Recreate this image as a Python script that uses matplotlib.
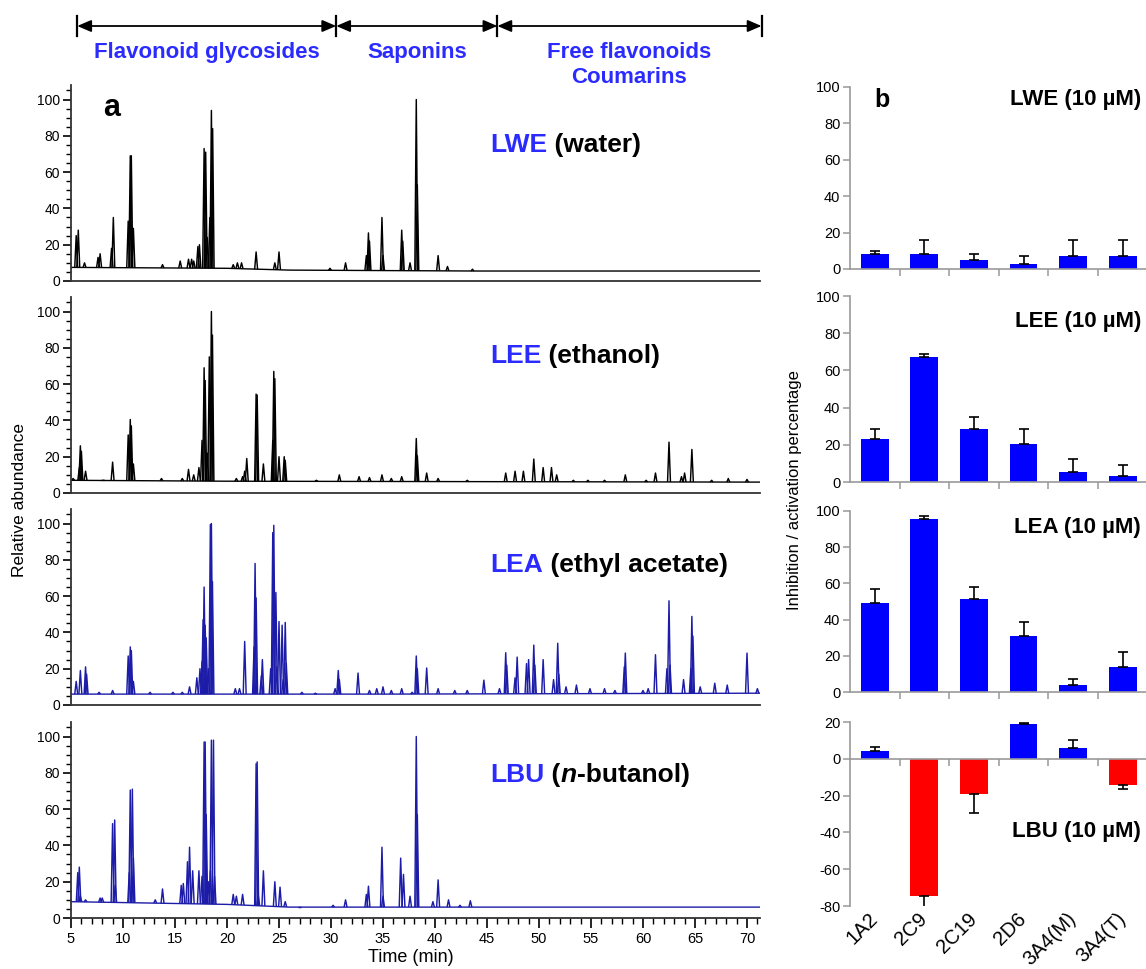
import numpy as np
import matplotlib
matplotlib.use("Agg")
import matplotlib.pyplot as plt
from matplotlib.collections import LineCollection

plt.rcParams["font.family"] = ["Liberation Sans", "DejaVu Sans"]
plt.rcParams["axes.unicode_minus"] = False

W, H = 1146, 969
BLUE_TXT = "#2b2bff"
TRACE_BLUE = "#1c1ca8"
BAR_BLUE = "#0000ff"
BAR_RED = "#ff0000"

# ---- chromatograms (retention time in min, relative abundance) ----
X_RANGE = (5, 71.25)
HALF_W = 0.14

LWE_BASE_T = [5, 20, 26, 44, 71.25]
LWE_BASE_Y = [7.5, 7, 6, 5.5, 5.5]
LWE_RT = [5.5, 5.7, 6.3, 7.6, 7.8, 8.9, 9.07, 10.5, 10.7, 10.8, 11.0, 13.8, 15.5, 16.3,
          16.6, 16.8, 17.2, 17.35, 17.8, 17.95, 18.1, 18.35, 18.5, 18.62, 20.6, 21.0,
          21.4, 22.8, 24.6, 25.0, 29.9, 31.4, 33.4, 33.6, 33.7, 34.9, 35.0, 36.8, 36.9,
          37.6, 38.2, 38.3, 40.3, 41.2, 43.6]
LWE_H = [25, 28, 10, 13, 15, 18, 35, 33, 69, 69, 29, 9, 11, 12,
         12, 11, 19, 20, 73, 71, 24, 35, 94, 84, 9, 10,
         10, 16, 10, 16, 7, 10, 14, 26.5, 22, 35, 14, 28, 22,
         10, 100, 53, 14, 8, 6.5]

LEE_BASE_T = [5, 20, 71.25]
LEE_BASE_Y = [7, 6.5, 6]
LEE_RT = [5.2, 5.8, 5.9, 6.0, 6.4, 8.1, 9.0, 10.5, 10.7, 10.8, 11.0, 13.7, 15.7, 16.3,
          16.8, 17.3, 17.6, 17.8, 17.9, 18.1, 18.3, 18.5, 18.6, 20.9, 21.5, 21.7, 21.9,
          22.8, 22.9, 23.5, 24.4, 24.5, 24.6, 25.0, 25.5, 25.6, 28.6, 30.8, 32.7, 33.7,
          34.9, 35.8, 36.8, 38.2, 38.3, 39.2, 40.3, 43.1, 46.8, 47.7, 48.5, 49.5, 50.4,
          51.2, 51.7, 53.3, 54.7, 56.3, 58.3, 60.3, 61.2, 62.5, 63.7, 64.0, 64.7, 66.6,
          68.2, 70.0]
LEE_H = [8, 14, 26, 23, 12, 7, 17, 32, 40.5, 37, 16, 8, 8, 13,
         10, 14, 29, 69, 62, 22, 75, 100, 87, 8, 9, 12, 19,
         54.5, 54, 16, 29, 67, 63, 20, 20, 18, 7, 10, 9, 8.5,
         10, 8, 9, 30, 20.5, 11, 8, 7, 11, 12, 12, 18.7, 14,
         14, 10, 7, 7, 7, 10, 7, 11, 28, 9, 11, 24, 7,
         8, 7.5]

LEA_BASE_T = [5, 35, 71.25]
LEA_BASE_Y = [6, 6, 6.5]
LEA_RT = [5.5, 5.9, 6.4, 6.5, 7.7, 9.0, 10.5, 10.7, 10.8, 11.0, 12.6, 14.8, 15.7, 16.4,
          17.1, 17.4, 17.6, 17.7, 17.8, 17.9, 18.0, 18.2, 18.4, 18.5, 18.6, 20.8, 21.2,
          21.7, 22.6, 22.7, 22.8, 23.3, 23.4, 24.2, 24.4, 24.5, 24.7, 24.8, 25.0, 25.3,
          25.4, 25.6, 25.7, 27.2, 28.5, 30.4, 30.7, 30.8, 32.6, 33.7, 34.4, 35.0, 35.8,
          36.8, 37.8, 38.2, 38.3, 39.2, 40.3, 41.9, 43.1, 44.7, 46.2, 46.8, 46.9, 47.7,
          47.9, 48.8, 49.0, 49.5, 49.6, 50.4, 51.4, 51.8, 51.9, 52.6, 53.6, 54.9, 56.3,
          57.3, 58.2, 58.3, 60.0, 60.5, 61.2, 62.3, 62.5, 62.6, 63.9, 64.6, 64.7, 64.8,
          65.5, 66.9, 68.1, 70.0, 71.0]
LEA_H = [13, 19, 21, 17, 7, 8, 27, 32, 30, 13, 7, 7, 7, 10,
         15, 20, 24, 47, 65, 44, 37, 20, 99.5, 100, 68, 9, 9,
         35, 32, 78, 59, 16, 25, 20, 95, 99, 62, 21, 46, 44,
         14, 45.5, 23, 7, 6.5, 9, 19, 14, 17.6, 8, 9, 10, 8,
         9, 7, 27, 20, 20.4, 9, 8, 8, 13.7, 9, 28.8, 22, 15,
         26.4, 22.8, 25, 33, 22, 25, 14, 34, 17, 10, 11, 9, 9,
         8, 21, 28.6, 8, 9, 27.7, 20, 57.4, 22, 14, 20, 48.8, 38,
         10, 12, 11, 28.6, 9]

LBU_BASE_T = [5, 20, 26, 45, 71.25]
LBU_BASE_Y = [9, 7.5, 6, 6, 6]
LBU_RT = [5.65, 5.8, 5.9, 6.4, 7.8, 8.0, 9.0, 9.2, 9.25, 10.6, 10.7, 10.9, 11.0, 13.1,
          13.8, 15.6, 15.8, 16.2, 16.4, 16.7, 17.3, 17.6, 17.8, 17.9, 18.0, 18.2, 18.4,
          18.5, 18.7, 18.8, 20.6, 20.9, 21.5, 22.8, 22.9, 23.0, 23.5, 24.6, 25.1, 25.6,
          27.0, 30.2, 31.4, 33.4, 33.6, 34.9, 35.0, 36.7, 36.97, 37.6, 38.2, 38.3, 39.8,
          40.3, 41.3, 42.4, 43.4]
LBU_H = [25, 28, 12, 10, 11, 11, 52, 54, 18, 25, 70.5, 71, 33, 10,
         16, 18, 19, 31, 39, 26, 26, 23, 97, 97, 57, 20, 26,
         98, 98, 23, 13, 12, 13, 85, 86, 13, 26, 20, 17, 9,
         6, 7, 10, 13, 17.5, 39, 12, 33, 24, 12, 100, 57, 9,
         21, 10, 7, 9.5]

SECTION_EDGES = [5.6, 30.5, 46.0, 71.4]
SECTION_NAMES = ["Flavonoid glycosides", "Saponins", "Free flavonoids\nCoumarins"]

# ---- CYP inhibition bars ----
CYPS = ["1A2", "2C9", "2C19", "2D6", "3A4(M)", "3A4(T)"]
LWE_PCT = [8, 8, 5, 3, 7, 7]
LWE_SD = [2, 8, 3, 4, 9, 9]
LEE_PCT = [23, 67, 28.5, 20.5, 5.5, 3.2]
LEE_SD = [5.3, 1.6, 6.6, 7.9, 6.9, 5.9]
LEA_PCT = [49.3, 95.6, 51.2, 30.9, 3.9, 13.6]
LEA_SD = [7.4, 1.6, 7.0, 7.6, 3.1, 8.7]
LBU_PCT = [4.2, -74.5, -19.1, 19.1, 5.8, -14.2]
LBU_SD = [2.2, 6.4, 10.2, 0.3, 4.6, 2.2]


def fx(x):
    return x / W


def fy(y):
    return 1 - y / H


fig = plt.figure(figsize=(W / 100, H / 100), dpi=100, facecolor="white")


def rich_label(ax, x, y, parts, size):
    txt, col, style = parts[0]
    prev = fig.text(fx(x), fy(y), txt, color=col, fontsize=size, fontweight="bold",
                    fontstyle=style, ha="left", va="center")
    for txt, col, style in parts[1:]:
        prev = ax.annotate(txt, xy=(1, 0), xycoords=prev, ha="left", va="bottom",
                           color=col, fontsize=size, fontweight="bold",
                           fontstyle=style, annotation_clip=False, clip_on=False)
    return prev


chrom = [
    (LWE_BASE_T, LWE_BASE_Y, LWE_RT, LWE_H, "black", 281,
     [("LWE", BLUE_TXT, "normal"), (" (water)", "black", "normal")], 145),
    (LEE_BASE_T, LEE_BASE_Y, LEE_RT, LEE_H, "black", 493,
     [("LEE", BLUE_TXT, "normal"), (" (ethanol)", "black", "normal")], 356),
    (LEA_BASE_T, LEA_BASE_Y, LEA_RT, LEA_H, TRACE_BLUE, 705,
     [("LEA", BLUE_TXT, "normal"), (" (ethyl acetate)", "black", "normal")], 565),
    (LBU_BASE_T, LBU_BASE_Y, LBU_RT, LBU_H, TRACE_BLUE, 918,
     [("LBU", BLUE_TXT, "normal"), (" (", "black", "normal"), ("n", "black", "italic"),
      ("-butanol)", "black", "normal")], 775),
]

chrom_axes = []
for i, (bt, by, rt, hh, col, bottom_px, parts, label_y) in enumerate(chrom):
    ax = fig.add_axes([fx(71), fy(bottom_px), fx(760) - fx(71), 196 / H])
    chrom_axes.append(ax)
    ax.plot(bt, by, color=col, lw=1.0)
    foot = np.interp(rt, bt, by)
    segs = [[(t - HALF_W, f), (t, p), (t + HALF_W, f)] for t, p, f in zip(rt, hh, foot)]
    ax.add_collection(LineCollection(segs, colors=col, linewidths=1.05))
    ax.set_xlim(*X_RANGE)
    ax.set_ylim(0, 108)
    for s in ("top", "right"):
        ax.spines[s].set_visible(False)
    for s in ("left", "bottom"):
        ax.spines[s].set_color("#333333")
        ax.spines[s].set_linewidth(1.3)
    ax.set_yticks(range(0, 101, 20))
    ax.set_yticks(range(0, 106, 5), minor=True)
    ax.tick_params(axis="y", which="major", length=6, width=1.2, labelsize=10, pad=2)
    ax.tick_params(axis="y", which="minor", length=3.5, width=1.0)
    if i < 3:
        ax.tick_params(axis="x", which="both", bottom=False, labelbottom=False)
    else:
        ax.set_xticks(range(5, 71, 5))
        ax.set_xticks(range(5, 72, 1), minor=True)
        ax.tick_params(axis="x", which="major", length=7, width=1.2, labelsize=10.5, pad=3)
        ax.tick_params(axis="x", which="minor", length=4, width=1.0)

for ax, (bt, by, rt, hh, col, bottom_px, parts, label_y) in zip(chrom_axes, chrom):
    rich_label(ax, 490, label_y, parts, 19)

# section brackets above the chromatograms
ax1 = chrom_axes[0]
tr = ax1.get_xaxis_transform()
y_arrow = (281 - 26) / 196
for e in SECTION_EDGES:
    ax1.plot([e, e], [(281 - 36) / 196, (281 - 16) / 196], color="black", lw=1.6,
             transform=tr, clip_on=False)
for a, b, name in zip(SECTION_EDGES[:-1], SECTION_EDGES[1:], SECTION_NAMES):
    ax1.annotate("", xy=(a, y_arrow), xytext=(b, y_arrow), xycoords=tr, textcoords=tr,
                 arrowprops=dict(arrowstyle="<|-|>,head_length=0.7,head_width=0.3",
                                 color="black", lw=1.3, shrinkA=0, shrinkB=0,
                                 mutation_scale=12),
                 annotation_clip=False)
    ax1.text((a + b) / 2, (281 - 42) / 196, name, transform=tr, ha="center", va="top",
             color=BLUE_TXT, fontsize=16, fontweight="bold", linespacing=1.25)

fig.text(fx(112), fy(108), "a", fontsize=22, fontweight="bold", ha="center", va="center")
fig.text(fx(20), fy(500), "Relative abundance", rotation=90, fontsize=12.5,
         ha="center", va="center")
fig.text(fx(411), fy(958), "Time (min)", fontsize=13, ha="center", va="center")

# ---- bar panels ----
bars = [
    (LWE_PCT, LWE_SD, (0, 100), 269, 182, "LWE (10 µM)", 100),
    (LEE_PCT, LEE_SD, (0, 100), 482, 186, "LEE (10 µM)", 322),
    (LEA_PCT, LEA_SD, (0, 100), 692, 181, "LEA (10 µM)", 528),
    (LBU_PCT, LBU_SD, (-80, 20), 906, 184, "LBU (10 µM)", 832),
]
xpos = np.arange(len(CYPS))
for i, (vals, sd, ylim, bottom_px, h_px, name, name_y) in enumerate(bars):
    ax = fig.add_axes([fx(850), fy(bottom_px), fx(1146) - fx(850), h_px / H])
    vals = np.asarray(vals)
    sd = np.asarray(sd)
    colors = [BAR_BLUE if v >= 0 else BAR_RED for v in vals]
    ax.bar(xpos, vals, width=0.56, color=colors, zorder=2)
    lower = np.where(vals < 0, sd, 0)
    upper = np.where(vals >= 0, sd, 0)
    ax.errorbar(xpos, vals, yerr=[lower, upper], fmt="none", ecolor="black",
                elinewidth=1.2, capsize=3.6, capthick=1.2, zorder=3)
    ax.set_xlim(-0.5, 5.47)
    ax.set_ylim(*ylim)
    ax.set_yticks(np.arange(ylim[0], ylim[1] + 1, 20))
    for s in ("top", "right"):
        ax.spines[s].set_visible(False)
    for s in ("left", "bottom"):
        ax.spines[s].set_color("#999999")
        ax.spines[s].set_linewidth(1.2)
    ax.set_xticks(np.arange(0.5, 5, 1))
    ax.tick_params(axis="x", length=5, width=1.1, color="#999999", labelbottom=False)
    ax.tick_params(axis="y", length=5, width=1.1, color="#999999", labelsize=10.5, pad=2)
    fig.text(fx(1141), fy(name_y), name, fontsize=16, fontweight="bold",
             ha="right", va="center")
    if ylim[0] < 0:
        ax.spines["bottom"].set_position(("data", 0))
        sec = ax.secondary_xaxis("bottom")
        sec.set_xticks(xpos, labels=CYPS)
        sec.tick_params(length=0, pad=7, labelsize=14.5)
        sec.spines["bottom"].set_visible(False)
        for lab in sec.get_xticklabels():
            lab.set_rotation(45)
            lab.set_ha("right")
            lab.set_va("center")
            lab.set_rotation_mode("anchor")

fig.text(fx(882), fy(100), "b", fontsize=18, fontweight="bold", ha="center", va="center")
fig.text(fx(795), fy(490), "Inhibition / activation percentage", rotation=90,
         fontsize=12, ha="center", va="center")

fig.savefig("out.png", dpi=100)
